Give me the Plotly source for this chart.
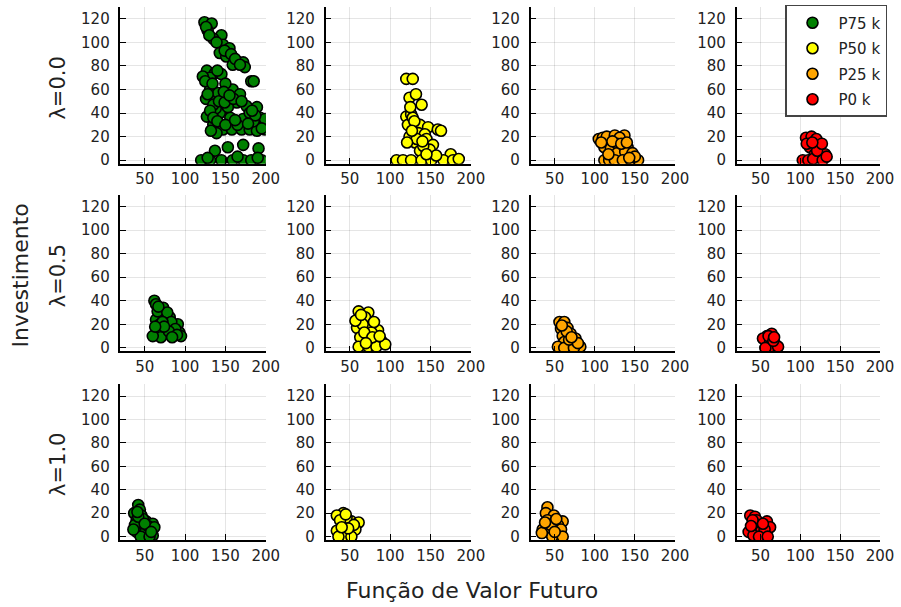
import plotly.graph_objects as go

# ---------------- data ----------------
row_labels = ["λ=0.0", "λ=0.5", "λ=1.0"]
series_names = ["P75 k", "P50 k", "P25 k", "P0 k"]
x_ticks = [50, 100, 150, 200]
y_ticks = [0, 20, 40, 60, 80, 100, 120]

# lambda = 0.0
x_p75_l00 = [124, 133, 128, 145, 135, 147, 155, 143, 151, 164, 172, 174, 159, 127, 137, 145, 131, 122, 182, 131, 159,
             137, 147, 164, 176, 189, 127, 143, 156, 172, 193, 197, 135, 147, 158, 170, 180, 189, 139, 153, 172, 191,
             137, 120, 131, 145, 159, 172, 182, 195, 199, 199, 138, 150, 168, 185, 165, 141, 153, 126,
             126, 130, 139, 149, 157, 162, 168, 140, 125, 134, 128, 135, 142, 149, 160, 170, 180, 187, 131, 135,
             140, 150, 162, 178, 195, 183, 148, 155, 132, 165, 128, 190, 185]
y_p75_l00 = [117, 116, 110, 106, 103, 98, 95, 91, 88, 84, 83, 79, 81, 76, 74, 73, 70, 71, 67, 60, 60,
             52, 54, 49, 46, 45, 37, 40, 36, 35, 36, 29, 30, 26, 26, 26, 26, 25, 23, 11, 13, 10,
             8, 0, 0, 0, 0, 0, 0, 0, 26, 35, 44, 65, 56, 33, 30, 57, 45, 52,
             113, 106, 100, 93, 90, 86, 81, 76, 67, 65, 56, 47, 50, 49, 52, 50, 40, 38, 42, 36,
             33, 30, 34, 31, 27, 42, 58, 55, 25, 3, 2, 2, 67]
x_p50_l00 = [120, 128, 124, 132, 139, 120, 126, 122, 137, 147, 159, 124, 135, 143, 145, 131, 153, 137, 149, 175,
             108, 116, 126, 139, 151, 166, 178, 185, 128, 141, 157, 163, 125, 130, 133, 127, 140, 121, 145]
y_p50_l00 = [69, 69, 53, 56, 47, 37, 39, 30, 30, 28, 26, 20, 23, 22, 18, 15, 13, 8, 9, 5,
             0, 0, 0, 0, 0, 0, 0, 1, 36, 12, 4, 25, 45, 33, 18, 25, 16, 15, 5]
x_p25_l00 = [105, 110, 115, 125, 137, 131, 112, 120, 128, 141, 128, 138, 147, 112, 118, 125, 135, 145, 154, 150,
             108, 122, 133, 117, 143, 140]
y_p25_l00 = [18, 19, 20, 21, 21, 19, 11, 10, 14, 11, 6, 7, 6, 0, 0, 0, 0, 0, 0, 3,
             15, 16, 14, 5, 2, 15]
x_p0_l00 = [107, 114, 120, 112, 124, 108, 118, 131, 103, 110, 116, 128, 121, 133, 127, 115]
y_p0_l00 = [19, 20, 18, 11, 11, 14, 5, 5, 0, 0, 1, 0, 8, 3, 14, 15]

# lambda = 0.5
x_p75_l05 = [62, 64, 73, 71, 64, 81, 69, 77, 85, 91, 93, 87, 75, 64, 95, 68, 66, 78, 83, 70, 88, 60,
             67, 72, 80, 74, 90, 84, 63]
y_p75_l05 = [40, 37, 34, 27, 24, 26, 20, 17, 19, 20, 13, 12, 12, 12, 10, 15, 31, 30, 22, 9, 16, 10,
             35, 22, 14, 18, 11, 9, 18]
x_p50_l05 = [61, 73, 61, 69, 59, 75, 85, 77, 63, 73, 89, 61, 73, 83, 94, 66, 80, 68, 57, 64, 78, 70, 87]
y_p50_l05 = [31, 30, 24, 26, 17, 17, 15, 13, 9, 8, 6, 1, 1, 1, 3, 20, 22, 13, 23, 28, 9, 4, 10]
x_p25_l05 = [56, 62, 58, 66, 60, 70, 76, 62, 74, 82, 54, 62, 74, 68, 65, 79, 59, 71]
y_p25_l05 = [22, 22, 16, 17, 10, 12, 8, 5, 3, 1, 1, 0, 0, 7, 14, 4, 19, 9]
x_p0_l05 = [58, 64, 53, 62, 70, 62, 72, 56, 60, 66, 67]
y_p0_l05 = [10, 12, 8, 5, 2, 1, 1, 0, 10, 6, 9]

# lambda = 1.0
x_p75_l10 = [42, 44, 37, 46, 40, 52, 60, 44, 56, 40, 50, 60, 45, 56, 38, 48, 42, 54, 62, 36, 41, 50, 58]
y_p75_l10 = [27, 23, 20, 18, 14, 13, 11, 9, 6, 4, 3, 1, 0, 0, 10, 15, 17, 9, 8, 6, 21, 11, 4]
x_p50_l10 = [42, 34, 52, 61, 42, 34, 57, 44, 52, 36, 46, 38, 55, 48, 40, 45]
y_p50_l10 = [20, 18, 13, 12, 11, 5, 6, 1, 0, 0, 16, 14, 10, 7, 8, 19]
x_p25_l10 = [41, 39, 49, 41, 60, 54, 35, 58, 41, 47, 60, 34, 45, 52, 38, 50]
y_p25_l10 = [25, 20, 18, 14, 13, 10, 6, 6, 4, 0, 0, 3, 10, 15, 12, 4]
x_p0_l10 = [37, 43, 45, 58, 62, 35, 45, 51, 55, 41, 48, 59, 40, 53, 38]
y_p0_l10 = [18, 17, 14, 13, 8, 4, 7, 5, 6, 1, 0, 0, 14, 11, 9]

panels = [
    [(x_p75_l00, y_p75_l00), (x_p50_l00, y_p50_l00), (x_p25_l00, y_p25_l00), (x_p0_l00, y_p0_l00)],
    [(x_p75_l05, y_p75_l05), (x_p50_l05, y_p50_l05), (x_p25_l05, y_p25_l05), (x_p0_l05, y_p0_l05)],
    [(x_p75_l10, y_p75_l10), (x_p50_l10, y_p50_l10), (x_p25_l10, y_p25_l10), (x_p0_l10, y_p0_l10)],
]

# ---------------- style ----------------
colors = ["#008000", "#FFFF00", "#FFA500", "#FF0000"]
W, H = 901, 607
# effective drawing area observed in the rendered page
WR, HR = 891, 602
col_px = [(121, 267), (327, 473), (533, 678), (740, 884)]
row_px = [(7, 164), (195, 352), (385, 541)]
row_label_y = [88, 276, 465]
FONT = "DejaVu Sans"
TXT = "#222222"


def fx(px):
    return min(px / WR, 1.0)


def fy(py):
    return max(1 - py / HR, 0.0)


fig = go.Figure()
layout = dict(
    width=W, height=H,
    margin=dict(l=0, r=0, t=0, b=0),
    paper_bgcolor="white", plot_bgcolor="white",
    showlegend=True,
    font=dict(family=FONT, color=TXT),
    legend=dict(x=1.0, y=fy(5), xanchor="right", yanchor="top",
                bgcolor="white", bordercolor="#444444", borderwidth=1.5,
                font=dict(family=FONT, size=15, color=TXT),
                itemwidth=42, tracegroupgap=3),
)

k = 0
for r in range(3):
    for c in range(4):
        k += 1
        xa = "x" if k == 1 else f"x{k}"
        ya = "y" if k == 1 else f"y{k}"
        xs, ys = panels[r][c]
        fig.add_trace(go.Scatter(
            x=xs, y=ys, mode="markers", xaxis=xa, yaxis=ya,
            name=series_names[c], showlegend=(r == 0), legendgroup=series_names[c],
            marker=dict(size=11, color=colors[c], line=dict(color="black", width=1.6)),
        ))
        x0, x1 = col_px[c]
        y0, y1 = row_px[r]
        common = dict(
            showline=True, linecolor="black", linewidth=1.5, mirror=False,
            ticks="inside", ticklen=6, tickwidth=1, tickcolor="black",
            showgrid=True, gridcolor="rgba(0,0,0,0.1)", gridwidth=1,
            zeroline=False, tickfont=dict(family=FONT, size=15, color=TXT),
            fixedrange=True,
        )
        layout["xaxis" if k == 1 else f"xaxis{k}"] = dict(
            common, domain=[fx(x0), fx(x1)], range=[20, 200], tickvals=x_ticks,
            anchor=ya, ticklabelstandoff=1)
        layout["yaxis" if k == 1 else f"yaxis{k}"] = dict(
            common, domain=[fy(y1), fy(y0)], range=[-3, 130], tickvals=y_ticks,
            anchor=xa, ticklabelstandoff=6)

annotations = []
for r in range(3):
    annotations.append(dict(text=row_labels[r], x=fx(58), y=fy(row_label_y[r]),
                            xref="paper", yref="paper", showarrow=False, textangle=-90,
                            xanchor="center", yanchor="middle",
                            font=dict(family=FONT, size=21, color=TXT)))
annotations.append(dict(text="Investimento", x=fx(21), y=fy(276), xref="paper", yref="paper",
                        showarrow=False, textangle=-90, xanchor="center", yanchor="middle",
                        font=dict(family=FONT, size=22, color=TXT)))
annotations.append(dict(text="Função de Valor Futuro", x=fx(474), y=fy(591), xref="paper", yref="paper",
                        showarrow=False, xanchor="center", yanchor="middle",
                        font=dict(family=FONT, size=22, color=TXT)))
layout["annotations"] = annotations

fig.update_layout(**layout)
fig.write_html("out.html")
